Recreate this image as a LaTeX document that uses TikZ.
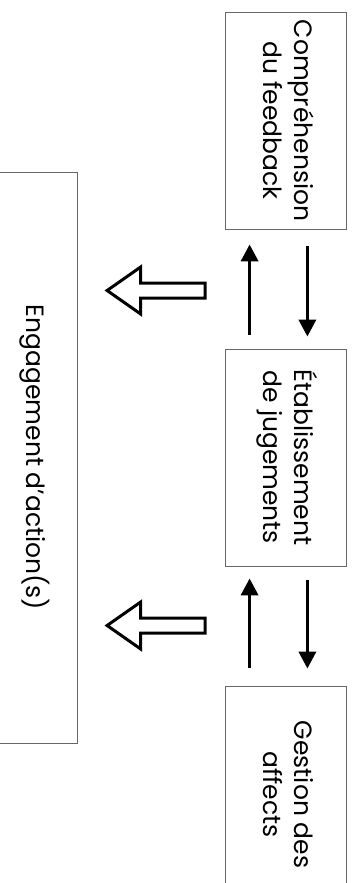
\documentclass[tikz,border=0pt]{standalone}
\usepackage{fontspec}
\setmainfont{Poppins}
\usepackage{graphicx}
\usetikzlibrary{arrows.meta, shapes.arrows, calc, positioning}

\begin{document}
\begin{tikzpicture}[x=1pt, y=-1pt,
    stage/.style={draw=black!60, line width=0.8pt, minimum width=121pt, minimum height=217pt, inner sep=0pt, font=\fontsize{25}{31}\selectfont},
    flow/.style={-{Triangle[length=17pt, width=17pt]}, line width=3.5pt},
    fatarrow/.style={single arrow, draw, line width=3pt, fill=white, shape border rotate=180, minimum height=98pt, inner sep=6pt, single arrow head extend=16pt, single arrow tip angle=70, anchor=tip}]
\fill[white] (0,0) rectangle (355,883);
\useasboundingbox (0,0) rectangle (355,883);
\clip (0,0) rectangle (355,883);
\draw
    node [stage] (comp) at (285.5,120.5) {\rotatebox{-90}{\begin{tabular}{@{}c@{}}Compréhension\\du feedback\end{tabular}}}
    node [stage] (etab) at (285.5,457.5) {\rotatebox{-90}{\begin{tabular}{@{}c@{}}Établissement\\de jugements\end{tabular}}}
    node [stage] (gest) at (285.5,794.5) {\rotatebox{-90}{\begin{tabular}{@{}c@{}}Gestion des\\affects\end{tabular}}}
    node [stage, minimum width=84pt, minimum height=571pt] (engage) at (35,457.5) {\rotatebox{-90}{Engagement d’action(s)}}
;
\node [fatarrow] (act1) at (104.5,290.5) {};
\node [fatarrow] (act2) at (104.5,625.5) {};
\draw[flow, shorten <=14pt, shorten >=15pt] ([xshift=25pt]etab.north west) -- ([xshift=25pt]comp.south west);
\draw[flow, shorten <=17pt, shorten >=12pt] ([xshift=-39pt]comp.south east) -- ([xshift=-39pt]etab.north east);
\draw[flow, shorten <=18pt, shorten >=12pt] ([xshift=25pt]gest.north west) -- ([xshift=25pt]etab.south west);
\draw[flow, shorten <=14pt, shorten >=17pt] ([xshift=-39pt]etab.south east) -- ([xshift=-39pt]gest.north east);
\end{tikzpicture}
\end{document}
